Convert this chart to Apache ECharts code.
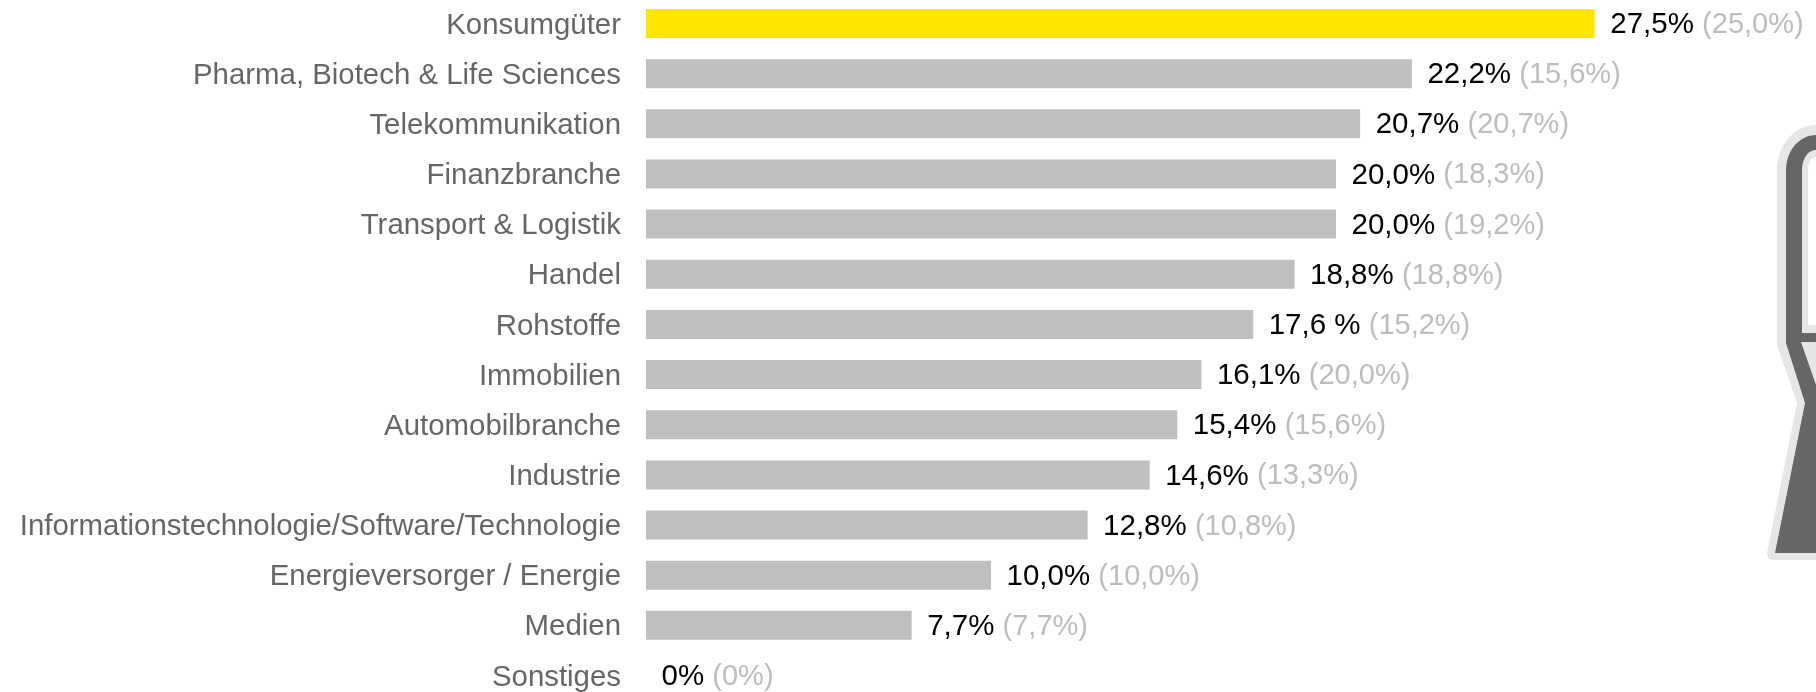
<!DOCTYPE html>
<html>
<head>
<meta charset="utf-8">
<title>Branchen</title>
<style>
  html, body { margin: 0; padding: 0; background: #fff; }
  #chart { width: 1816px; height: 692px; }
</style>
<script src="https://cdn.jsdelivr.net/npm/echarts@6/dist/echarts.min.js"></script>
</head>
<body>
<div id="chart"></div>
<script>
var categories = ['Konsumgüter', 'Pharma, Biotech & Life Sciences', 'Telekommunikation', 'Finanzbranche',
  'Transport & Logistik', 'Handel', 'Rohstoffe', 'Immobilien', 'Automobilbranche', 'Industrie',
  'Informationstechnologie/Software/Technologie', 'Energieversorger / Energie', 'Medien', 'Sonstiges'];
var values = [27.5, 22.2, 20.7, 20.0, 20.0, 18.8, 17.6, 16.1, 15.4, 14.6, 12.8, 10.0, 7.7, 0];
var valueLabels = ['27,5%', '22,2%', '20,7%', '20,0%', '20,0%', '18,8%', '17,6 %', '16,1%', '15,4%', '14,6%', '12,8%', '10,0%', '7,7%', '0%'];
var previousLabels = ['25,0%', '15,6%', '20,7%', '18,3%', '19,2%', '18,8%', '15,2%', '20,0%', '15,6%', '13,3%', '10,8%', '10,0%', '7,7%', '0%'];

var FONT = '"Liberation Sans", Arial, sans-serif';

var myChart = echarts.init(document.getElementById('chart'));

// runde Schulter der Silhouette: Viertelellipse von links nach oben
function shoulder(rx, ry) {
  var pts = [];
  for (var i = 0; i <= 16; i++) {
    var a = i / 16 * Math.PI / 2;
    pts.push([1816 - rx * Math.cos(a), 170 - ry * Math.sin(a)]);
  }
  return pts;
}

// Silhouette rechts im Bild, nur Dekoration
var figure = [
  { points: shoulder(39, 45).concat([[1816, 560], [1773, 560], [1768, 558], [1767, 553], [1797, 403], [1777, 345]]), fill: '#e6e6e6' },
  { points: shoulder(30, 35).concat([[1816, 553], [1775, 553], [1805, 403], [1786, 343]]), fill: '#666666' },
  { points: shoulder(14, 20).concat([[1816, 333], [1802, 333]]), fill: '#e6e6e6' },
  { points: shoulder(8, 13).concat([[1816, 325], [1808, 325]]), fill: '#ffffff' },
  { points: [[1801, 342], [1816, 385], [1816, 342]], fill: '#e6e6e6' }
];

var option = {
  animation: false,
  backgroundColor: '#ffffff',
  grid: { left: 646, top: 23.5, width: 1035, height: 653.4 },
  xAxis: { type: 'value', min: 0, max: 30, show: false },
  yAxis: {
    type: 'category',
    inverse: true,
    boundaryGap: false,
    data: categories,
    axisLine: { show: false },
    axisTick: { show: false },
    axisLabel: {
      margin: 25,
      interval: 0,
      formatter: function (name) {
        return '{c|' + name + '}';
      },
      rich: {
        c: { color: '#666666', fontFamily: FONT, fontSize: 29.4, padding: [4, 0, 0, 0] }
      }
    }
  },
  series: [{
    type: 'bar',
    barWidth: 29,
    clip: false,
    data: values.map(function (v, i) {
      return { value: v, itemStyle: { color: i === 0 ? '#ffe600' : '#bfbfbf' } };
    }),
    label: {
      show: true,
      position: 'right',
      distance: 15.5,
      offset: [0, 1.5],
      fontFamily: FONT,
      formatter: function (p) {
        return '{a|' + valueLabels[p.dataIndex] + ' }{b|(' + previousLabels[p.dataIndex] + ')}';
      },
      rich: {
        a: { color: '#000000', fontFamily: FONT, fontSize: 29.5 },
        b: { color: '#bdbdbd', fontFamily: FONT, fontSize: 29 }
      }
    }
  }],
  graphic: figure.map(function (f) {
    return { type: 'polygon', silent: true, shape: { points: f.points }, style: { fill: f.fill } };
  })
};

myChart.setOption(option);
</script>
</body>
</html>
